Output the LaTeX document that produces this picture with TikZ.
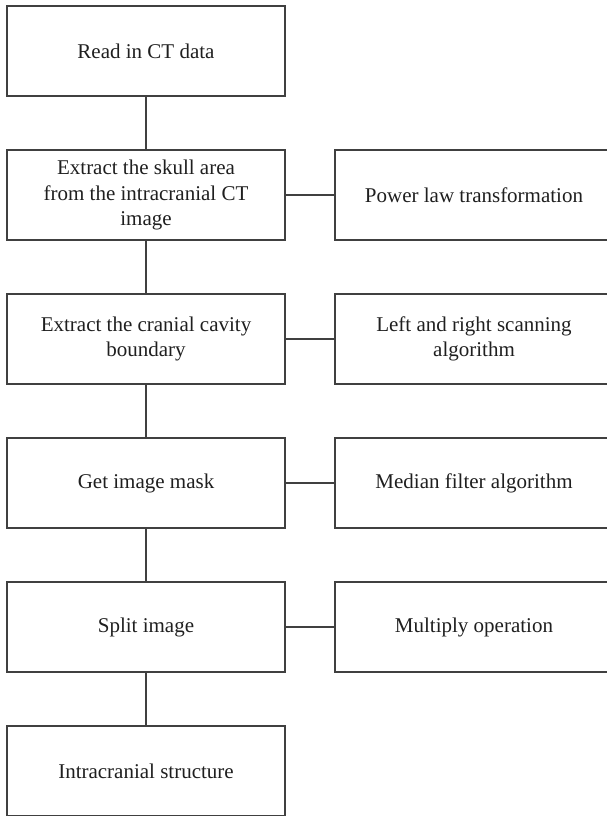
\documentclass[tikz,border=0pt]{standalone}
\usepackage{fontspec}
\setmainfont{Liberation Serif}
\tikzset{
  box/.style={draw=black!75, line width=1.4pt, minimum width=278pt, minimum height=90pt, align=center, inner sep=0pt, text=black!88, font=\fontsize{21}{25.5}\selectfont},
  link/.style={draw=black!75, line width=1.4pt}
}
\begin{document}
\begin{tikzpicture}[x=1pt,y=-1pt]
\useasboundingbox (0,0) rectangle (607,816);
\node[box] (a) at (146,51) {Read in CT data};
\node[box] (b) at (146,195) {Extract the skull area\\from the intracranial CT\\image};
\node[box] (c) at (146,339) {Extract the cranial cavity\\boundary};
\node[box] (d) at (146,483) {Get image mask};
\node[box] (e) at (146,627) {Split image};
\node[box] (f) at (146,771) {Intracranial structure};
\node[box] (b2) at (474,195) {Power law transformation};
\node[box] (c2) at (474,339) {Left and right scanning\\algorithm};
\node[box] (d2) at (474,483) {Median filter algorithm};
\node[box] (e2) at (474,627) {Multiply operation};
\draw[link] (a) -- (b);
\draw[link] (b) -- (c);
\draw[link] (c) -- (d);
\draw[link] (d) -- (e);
\draw[link] (e) -- (f);
\draw[link] (b) -- (b2);
\draw[link] (c) -- (c2);
\draw[link] (d) -- (d2);
\draw[link] (e) -- (e2);
\end{tikzpicture}
\end{document}
